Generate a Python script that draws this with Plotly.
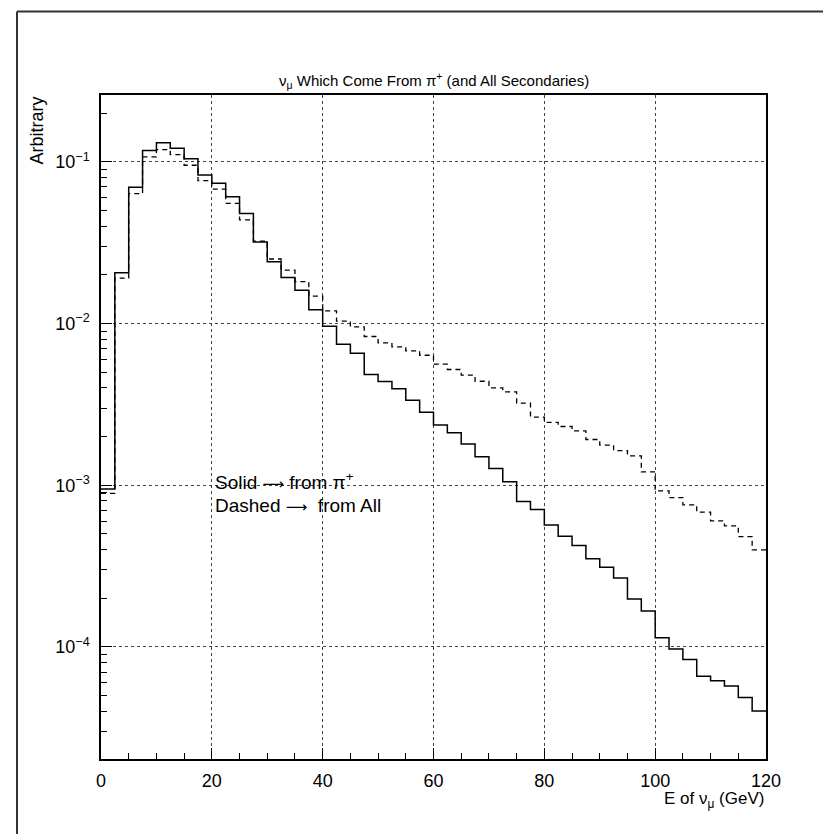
import numpy as np
import plotly.graph_objects as go

# Bin lower edges (GeV), width 2.5
bin_width = 2.5
bin_lo = [i * 2.5 for i in range(48)]

solid_vals = [9.5e-4, 0.0206, 0.0697, 0.1175, 0.1316, 0.1216, 0.1048, 0.0831,
              0.0738, 0.0610, 0.0479, 0.0320, 0.0241, 0.0193, 0.0161, 0.0122,
              0.00964, 0.00745, 0.00656, 0.00484, 0.00438, 0.00395, 0.00336, 0.00283,
              0.00236, 0.00211, 0.00180, 0.00150, 0.00127, 0.00105, 0.000793, 0.000708,
              0.000569, 0.000484, 0.000424, 0.000351, 0.000311, 0.000267, 0.000198, 0.000167,
              0.000114, 9.73e-5, 8.35e-5, 6.6e-5, 6.19e-5, 5.74e-5, 4.86e-5, 4.01e-5]

dashed_vals = [8.9e-4, 0.0191, 0.0636, 0.1074, 0.119, 0.111, 0.0954, 0.0766,
               0.0678, 0.0555, 0.0438, 0.0324, 0.0251, 0.0214, 0.0182, 0.0148,
               0.0120, 0.01035, 0.00955, 0.00832, 0.0076, 0.00718, 0.00678, 0.00637,
               0.00561, 0.0052, 0.0048, 0.0044, 0.0040, 0.00378, 0.00322, 0.00264,
               0.00245, 0.00231, 0.00217, 0.00192, 0.00177, 0.00164, 0.00152, 0.00121,
               0.000923, 0.000839, 0.000757, 0.000682, 0.000603, 0.000561, 0.000482, 0.000398]

x_ticks = [0, 20, 40, 60, 80, 100, 120]
y_major = [1e-4, 1e-3, 1e-2, 1e-1]
y_major_text = ["10<sup>−4</sup>", "10<sup>−3</sup>", "10<sup>−2</sup>", "10<sup>−1</sup>"]
y_minor = [m * d for d in [1e-5, 1e-4, 1e-3, 1e-2, 1e-1] for m in range(2, 10)]

title_text = "ν<sub>μ</sub> Which Come From π<sup>+</sup> (and All Secondaries)"
xtitle_text = "E of ν<sub>μ</sub> (GeV)"
ytitle_text = "Arbitrary"
ARROW = '<span style="font-family:DejaVu Sans;font-size:15px">⟶</span>'
legend_lines = ["Solid " + ARROW + " from π<sup>+</sup>", "Dashed " + ARROW + "  from All"]

W, H = 831, 834
L, R, T, B = 93, 73, 87, 83
FONT = "Liberation Sans, Arial, sans-serif"


def step_xy(vals):
    xs = list(bin_lo) + [bin_lo[-1] + bin_width]
    ys = list(vals) + [vals[-1]]
    return xs, ys


fig = go.Figure()
xs, ys = step_xy(dashed_vals)
fig.add_trace(go.Scatter(x=xs, y=ys, mode="lines", line_shape="hv",
                         line=dict(color="black", width=1.3, dash="5px,4px"),
                         showlegend=False, hoverinfo="skip"))
xs, ys = step_xy(solid_vals)
fig.add_trace(go.Scatter(x=xs, y=ys, mode="lines", line_shape="hv",
                         line=dict(color="black", width=1.5),
                         showlegend=False, hoverinfo="skip"))
# invisible trace on minor-tick axis
fig.add_trace(go.Scatter(x=[None], y=[None], yaxis="y2", showlegend=False))

yr = [-4.693, -0.586]

fig.update_layout(
    width=W, height=H,
    margin=dict(l=L, r=R, t=T, b=B),
    paper_bgcolor="white", plot_bgcolor="white",
    font=dict(family=FONT, color="black", size=16),
    xaxis=dict(range=[0, 120], tickvals=x_ticks, ticks="inside", ticklen=11,
               tickwidth=1, tickcolor="black",
               minor=dict(dtick=5, ticks="inside", ticklen=6, tickcolor="black", showgrid=False),
               showgrid=True, gridcolor="#444", griddash="dot", gridwidth=1,
               showline=True, linecolor="black", linewidth=1.5, mirror=True,
               zeroline=False, tickfont=dict(size=18), ticklabelstandoff=5),
    yaxis=dict(type="log", range=yr, tickvals=y_major, ticktext=y_major_text,
               ticks="inside", ticklen=11, tickwidth=1, tickcolor="black",
               showgrid=True, gridcolor="#444", griddash="dot", gridwidth=1,
               showline=True, linecolor="black", linewidth=1.5, mirror=True,
               zeroline=False, tickfont=dict(size=18), ticklabelstandoff=6),
    yaxis2=dict(type="log", range=yr, overlaying="y", side="left",
                tickvals=y_minor, ticks="inside", ticklen=6, tickcolor="black",
                showticklabels=False, showgrid=False, showline=False, zeroline=False),
)

pw, ph = W - L - R, H - T - B
annotations = [
    dict(text=title_text, x=0.5, xref="paper", y=1 + 14 / ph, yref="paper",
         yanchor="middle", showarrow=False, font=dict(size=15)),
    dict(text=xtitle_text, x=1, xref="paper", xanchor="right",
         y=-41 / ph, yref="paper", yanchor="middle",
         showarrow=False, font=dict(size=17)),
    dict(text=ytitle_text, x=-64.5 / pw, xref="paper", xanchor="center",
         y=1, yref="paper", yanchor="top", textangle=-90,
         showarrow=False, font=dict(size=18)),
    dict(text=legend_lines[0], x=20.2, y=-2.971, xref="x", yref="y",
         xanchor="left", yanchor="middle", showarrow=False, font=dict(size=19)),
    dict(text=legend_lines[1], x=20.2, y=-3.125, xref="x", yref="y",
         xanchor="left", yanchor="middle", showarrow=False, font=dict(size=19)),
]
fig.update_layout(annotations=annotations)

fx = lambda px: (px - L) / pw
fy = lambda py: (H - B - py) / ph
fig.update_layout(shapes=[
    dict(type="line", xref="paper", yref="paper", x0=fx(9), x1=fx(831), y0=fy(3.5), y1=fy(3.5),
         line=dict(color="#333", width=2)),
    dict(type="line", xref="paper", yref="paper", x0=fx(9), x1=fx(9), y0=fy(3.5), y1=fy(834),
         line=dict(color="#333", width=2)),
])

fig.write_html("out.html")
